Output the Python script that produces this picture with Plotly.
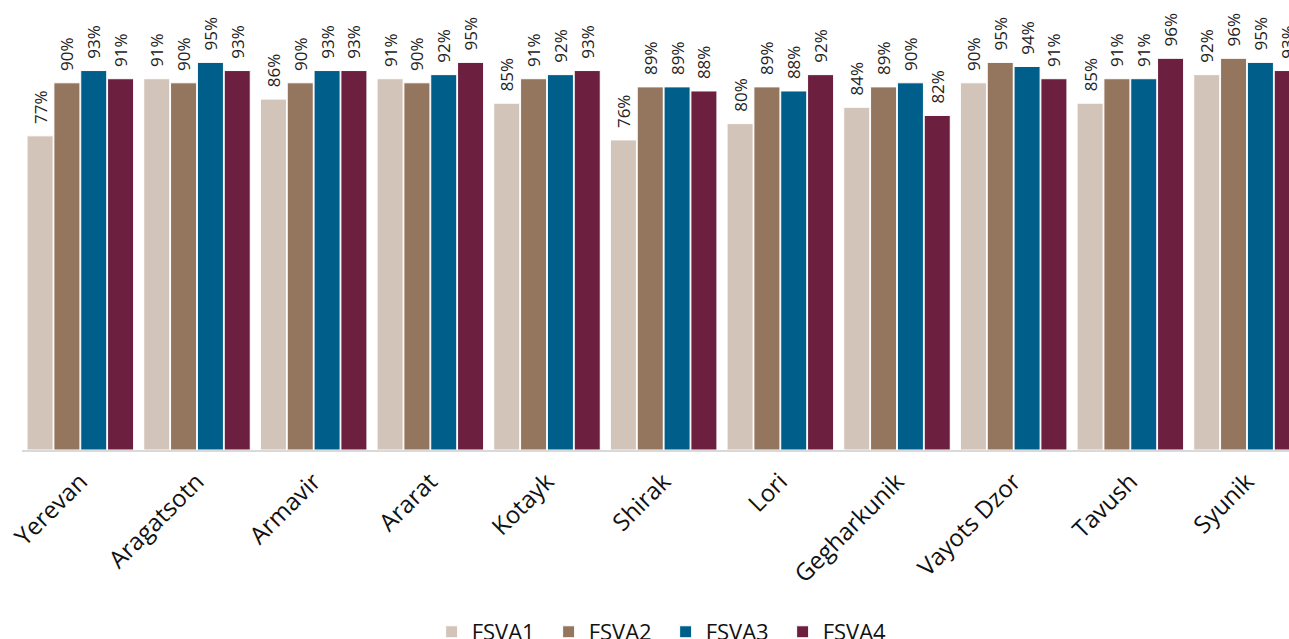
import plotly.graph_objects as go

regions = ["Yerevan", "Aragatsotn", "Armavir", "Ararat", "Kotayk", "Shirak",
           "Lori", "Gegharkunik", "Vayots Dzor", "Tavush", "Syunik"]
fsva1 = [77, 91, 86, 91, 85, 76, 80, 84, 90, 85, 92]
fsva2 = [90, 90, 90, 90, 91, 89, 89, 89, 95, 91, 96]
fsva3 = [93, 95, 93, 92, 92, 89, 88, 90, 94, 91, 95]
fsva4 = [91, 93, 93, 95, 93, 88, 92, 82, 91, 96, 93]

series = [("FSVA1", fsva1, "#D3C4B9"),
          ("FSVA2", fsva2, "#94765E"),
          ("FSVA3", fsva3, "#005E8A"),
          ("FSVA4", fsva4, "#6D1F40")]

# non-breaking spaces keep a little air between each bar and its label
PAD = "\u00a0\u00a0"

fig = go.Figure()
for name, vals, color in series:
    fig.add_trace(go.Bar(
        name=name, x=regions, y=vals,
        marker=dict(color=color, line=dict(color="white", width=1)),
        text=[f"{PAD}{v}%" for v in vals], textposition="outside",
        textangle=-90, cliponaxis=False,
        textfont=dict(family="Open Sans", size=17, color="#222222"),
    ))

fig.update_layout(
    width=1289, height=639,
    barmode="group", bargap=0.08, bargroupgap=0.03,
    plot_bgcolor="white", paper_bgcolor="white",
    margin=dict(l=22, r=0, t=42, b=189, autoexpand=False),
    font=dict(family="Open Sans", color="#111111"),
    showlegend=True,
    legend=dict(orientation="h", x=0.508, xanchor="center", y=-0.446, yanchor="middle",
                font=dict(size=22), traceorder="normal",
                entrywidth=72, entrywidthmode="pixels"),
    uniformtext=dict(minsize=17, mode="show"),
)
fig.update_xaxes(range=[-0.5, 10.36], tickangle=-45, tickfont=dict(size=24, color="#111111"),
                 showline=True, linecolor="#D9D9D9", linewidth=2, showgrid=False, ticks="",
                 automargin=False, ticklabelstandoff=6)
fig.update_yaxes(range=[0, 100], visible=False, showgrid=False, automargin=False)

fig.write_html("out.html")
